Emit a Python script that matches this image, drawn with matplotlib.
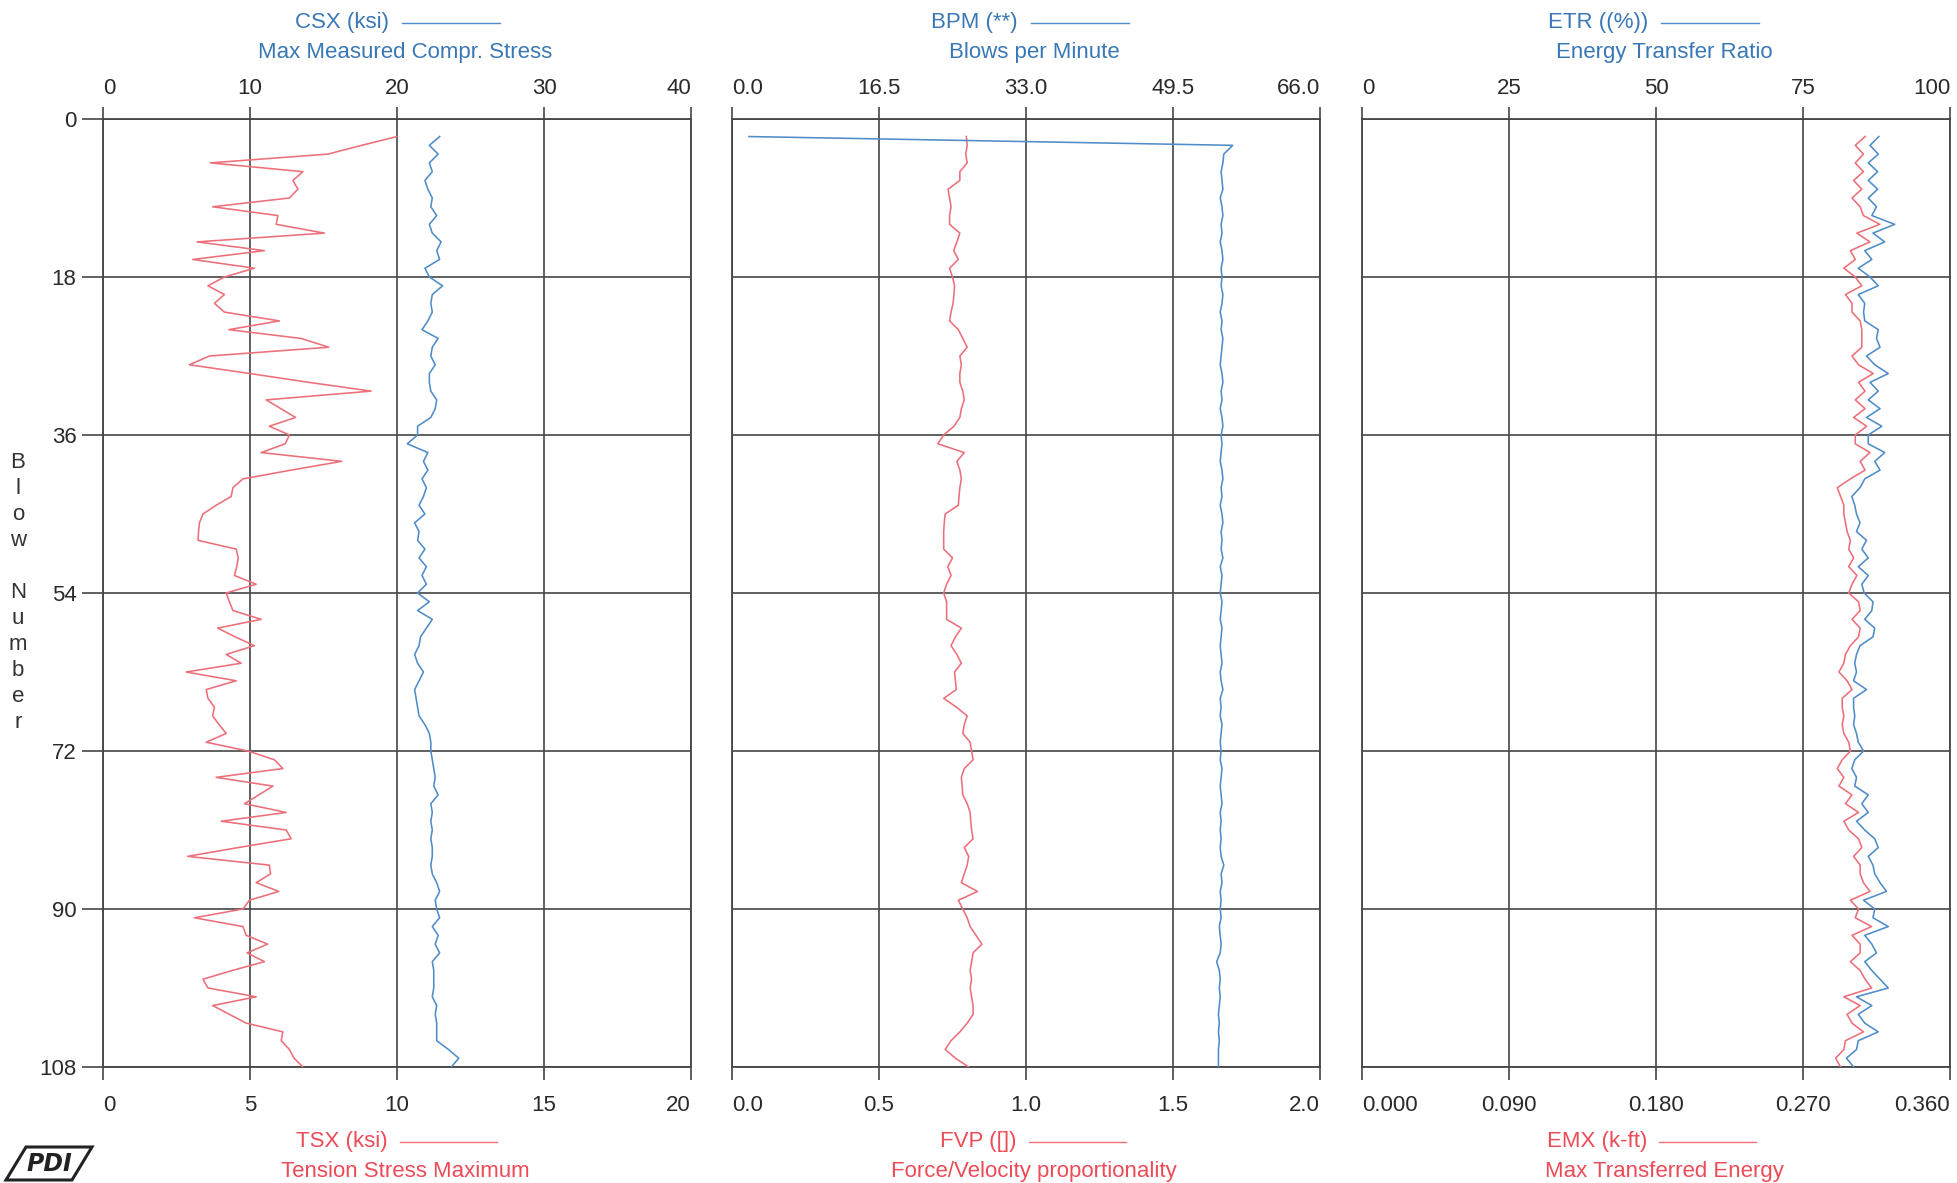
import numpy as np
import matplotlib
matplotlib.use('Agg')
import matplotlib.pyplot as plt
from matplotlib.lines import Line2D
from matplotlib.patches import Polygon

plt.rcParams['font.family'] = ['Liberation Sans', 'DejaVu Sans']

# ---------------- data (blow numbers 2..108) ----------------
csx = [22.9, 22.2, 22.8, 22.2, 22.4, 21.9, 22.1, 22.4, 22.3, 22.7,
       22.2, 22.4, 23.0, 22.7, 22.9, 21.9, 22.2, 23.1, 22.4, 22.3,
       22.4, 22.1, 21.7, 22.8, 22.4, 22.3, 22.6, 22.2, 22.2, 22.3,
       22.7, 22.6, 22.3, 21.4, 21.4, 20.7, 22.1, 21.8, 22.1, 21.7,
       22.0, 21.8, 21.5, 21.9, 21.2, 21.5, 21.4, 21.9, 21.5, 22.0,
       21.7, 22.0, 21.4, 22.2, 21.4, 22.4, 22.0, 21.6, 21.5, 21.2,
       21.4, 21.8, 21.5, 21.2, 21.3, 21.4, 21.5, 21.9, 22.2, 22.3,
       22.3, 22.4, 22.5, 22.6, 22.5, 22.8, 22.3, 22.4, 22.3, 22.4,
       22.3, 22.4, 22.4, 22.3, 22.4, 22.7, 22.9, 22.6, 22.7, 22.9,
       22.4, 22.8, 22.6, 22.9, 22.4, 22.5, 22.5, 22.5, 22.4, 22.7,
       22.6, 22.7, 22.7, 22.7, 23.5, 24.2, 23.7]

tsx = [10.0, 8.8, 7.65, 3.65, 6.8, 6.46, 6.63, 6.34, 3.73, 5.95,
       5.89, 7.53, 3.2, 5.49, 3.05, 5.15, 4.13, 3.57, 4.13, 3.79,
       4.13, 6.0, 4.28, 6.74, 7.68, 3.62, 2.94, 5.0, 7.0, 9.12,
       5.55, 6.05, 6.55, 5.66, 6.34, 6.2, 5.38, 8.12, 6.4, 4.76,
       4.42, 4.36, 3.85, 3.4, 3.28, 3.25, 3.23, 4.53, 4.6, 4.55,
       4.47, 5.21, 4.19, 4.3, 4.42, 5.38, 3.9, 4.5, 5.15, 4.19,
       4.7, 2.83, 4.53, 3.51, 3.57, 3.79, 3.73, 3.95, 4.19, 3.51,
       4.93, 5.83, 6.12, 3.85, 5.78, 5.3, 4.81, 6.23, 4.02, 6.23,
       6.4, 4.6, 2.88, 5.66, 5.7, 5.21, 5.98, 4.98, 4.76, 3.11,
       4.76, 4.87, 5.6, 4.9, 5.49, 4.4, 3.4, 3.57, 5.21, 3.73,
       4.3, 4.87, 6.12, 6.06, 6.34, 6.5, 6.8]

bpm = [1.9, 56.2, 55.2, 55.1, 54.9, 55.0, 55.1, 54.8, 55.0, 55.1,
       54.9, 55.0, 54.8, 55.0, 55.1, 54.9, 55.0, 54.9, 55.1, 55.0,
       54.8, 55.0, 54.9, 55.1, 55.0, 54.9, 54.8, 55.0, 55.1, 54.9,
       55.0, 54.8, 55.0, 55.1, 54.9, 55.0, 54.9, 54.8, 55.0, 55.1,
       54.9, 55.0, 54.8, 55.0, 55.1, 54.9, 55.0, 54.9, 55.1, 54.8,
       55.0, 54.9, 54.8, 55.0, 54.9, 54.8, 55.0, 54.9, 54.8, 54.9,
       55.0, 54.8, 54.9, 55.1, 54.8, 54.9, 54.8, 55.0, 54.9, 54.8,
       54.9, 54.8, 55.0, 54.9, 54.8, 54.9, 55.0, 54.8, 54.9, 54.8,
       54.9, 54.8, 54.9, 55.2, 54.9, 55.0, 54.8, 54.9, 54.8, 54.9,
       54.7, 54.8, 54.9, 54.8, 54.4, 54.7, 54.8, 54.7, 54.8, 54.7,
       54.6, 54.7, 54.6, 54.7, 54.6, 54.6, 54.6]

fvp = [0.797, 0.80, 0.795, 0.80, 0.775, 0.775, 0.735, 0.74, 0.745, 0.74,
       0.74, 0.775, 0.765, 0.754, 0.77, 0.74, 0.75, 0.757, 0.755, 0.752,
       0.745, 0.74, 0.77, 0.785, 0.80, 0.775, 0.78, 0.775, 0.775, 0.785,
       0.79, 0.78, 0.775, 0.755, 0.72, 0.70, 0.79, 0.765, 0.775, 0.78,
       0.775, 0.772, 0.77, 0.725, 0.722, 0.72, 0.72, 0.72, 0.75, 0.734,
       0.745, 0.73, 0.72, 0.73, 0.73, 0.73, 0.78, 0.76, 0.745, 0.765,
       0.78, 0.757, 0.76, 0.763, 0.72, 0.763, 0.80, 0.79, 0.785, 0.81,
       0.815, 0.82, 0.79, 0.78, 0.783, 0.785, 0.80, 0.81, 0.812, 0.815,
       0.82, 0.79, 0.805, 0.80, 0.79, 0.78, 0.835, 0.77, 0.785, 0.80,
       0.81, 0.83, 0.85, 0.82, 0.815, 0.81, 0.815, 0.81, 0.815, 0.82,
       0.82, 0.80, 0.775, 0.745, 0.725, 0.76, 0.805]

etr = [87.9, 86.4, 87.8, 86.1, 87.7, 86.1, 87.7, 86.1, 87.5, 86.7,
       90.6, 86.9, 88.9, 85.5, 86.7, 84.4, 86.4, 87.8, 84.4, 85.5,
       85.3, 85.5, 87.8, 87.5, 88.1, 85.8, 87.2, 89.5, 86.4, 87.8,
       86.1, 88.1, 85.8, 88.4, 86.1, 86.1, 88.9, 87.2, 88.1, 85.5,
       84.7, 83.3, 83.8, 84.1, 84.7, 84.1, 85.8, 85.0, 86.1, 84.4,
       86.1, 85.0, 85.4, 86.9, 86.7, 85.5, 87.2, 86.9, 84.7, 84.1,
       83.8, 84.1, 83.6, 85.8, 83.6, 83.6, 83.8, 83.6, 84.1, 84.4,
       85.3, 83.8, 83.3, 84.1, 83.8, 86.1, 85.0, 86.1, 84.1, 85.5,
       87.2, 87.8, 86.1, 86.9, 87.2, 88.1, 89.2, 85.3, 87.2, 86.9,
       89.5, 85.5, 86.7, 87.5, 85.5, 86.7, 88.1, 89.5, 84.1, 86.7,
       84.4, 85.5, 87.8, 84.4, 84.1, 82.4, 83.6]

emx = [0.308, 0.302, 0.307, 0.302, 0.307, 0.301, 0.306, 0.300, 0.305, 0.307,
       0.317, 0.303, 0.311, 0.299, 0.302, 0.295, 0.302, 0.306, 0.296, 0.300,
       0.300, 0.305, 0.306, 0.306, 0.306, 0.300, 0.304, 0.313, 0.304, 0.308,
       0.302, 0.308, 0.301, 0.309, 0.302, 0.302, 0.311, 0.305, 0.308, 0.299,
       0.291, 0.293, 0.295, 0.295, 0.296, 0.297, 0.299, 0.298, 0.301, 0.298,
       0.303, 0.300, 0.298, 0.304, 0.305, 0.300, 0.305, 0.304, 0.299, 0.296,
       0.295, 0.292, 0.297, 0.300, 0.294, 0.294, 0.295, 0.294, 0.295, 0.298,
       0.299, 0.294, 0.291, 0.295, 0.292, 0.300, 0.296, 0.304, 0.295, 0.298,
       0.304, 0.306, 0.301, 0.305, 0.305, 0.307, 0.311, 0.299, 0.304, 0.302,
       0.312, 0.300, 0.305, 0.305, 0.299, 0.305, 0.308, 0.312, 0.295, 0.305,
       0.297, 0.300, 0.307, 0.296, 0.295, 0.290, 0.293]

first_blow = 2
blows = np.arange(first_blow, first_blow + len(csx))

y_ticks = [0, 18, 36, 54, 72, 90, 108]
y_label = "Blow Number"

top_series = [csx, bpm, etr]
top_ticklabels = [["0", "10", "20", "30", "40"],
                  ["0.0", "16.5", "33.0", "49.5", "66.0"],
                  ["0", "25", "50", "75", "100"]]
top_titles = ["CSX (ksi)", "BPM (**)", "ETR ((%))"]
top_subs = ["Max Measured Compr. Stress", "Blows per Minute", "Energy Transfer Ratio"]

bot_series = [tsx, fvp, emx]
bot_ticklabels = [["0", "5", "10", "15", "20"],
                  ["0.0", "0.5", "1.0", "1.5", "2.0"],
                  ["0.000", "0.090", "0.180", "0.270", "0.360"]]
bot_titles = ["TSX (ksi)", "FVP ([])", "EMX (k-ft)"]
bot_subs = ["Tension Stress Maximum", "Force/Velocity proportionality", "Max Transferred Energy"]

# ---------------- style ----------------
BLUE_TXT = '#3a78b5'
BLUE_LN = '#4f8cc9'
RED_TXT = '#ec4b57'
RED_LN = '#ec6f79'
GRID = '#454545'
TICK_TXT = '#2a2a2a'
FS = 16

W, H = 1957, 1183
fig = plt.figure(figsize=(W / 100, H / 100), dpi=100)

panel_left = [103, 732, 1362]
panel_w = 588
top_px, bot_px = 119, 1067


def fx(px):
    return px / W


def fy(py):
    return 1 - py / H


def edge_align(axis):
    ticks = axis.get_major_ticks()
    for t in (ticks[0],):
        t.label1.set_horizontalalignment('left')
        t.label2.set_horizontalalignment('left')
    for t in (ticks[-1],):
        t.label1.set_horizontalalignment('right')
        t.label2.set_horizontalalignment('right')


for i in range(3):
    l = panel_left[i]
    ax = fig.add_axes([fx(l), fy(bot_px), panel_w / W, (bot_px - top_px) / H])
    bt = [float(s) for s in bot_ticklabels[i]]
    tt = [float(s) for s in top_ticklabels[i]]
    ax.plot(bot_series[i], blows, color=RED_LN, lw=1.15, zorder=3)
    ax.set_xlim(bt[0], bt[-1])
    ax.set_ylim(y_ticks[-1], y_ticks[0])
    ax.set_xticks(bt)
    ax.set_xticklabels(bot_ticklabels[i])
    ax.set_yticks(y_ticks)
    ax.grid(True, color=GRID, lw=1.2)
    ax.set_axisbelow(True)
    for sp in ax.spines.values():
        sp.set_color(GRID)
        sp.set_linewidth(1.3)
    ax.tick_params(axis='x', direction='out', length=9, width=1.2, color=GRID,
                   pad=11, labelsize=FS, labelcolor=TICK_TXT)
    if i == 0:
        ax.set_yticklabels([str(v) for v in y_ticks])
        ax.tick_params(axis='y', direction='out', length=15, width=1.2, color=GRID,
                       pad=4, labelsize=FS, labelcolor=TICK_TXT)
    else:
        ax.tick_params(axis='y', length=0, labelleft=False)
    edge_align(ax.xaxis)

    ax2 = ax.twiny()
    ax2.plot(top_series[i], blows, color=BLUE_LN, lw=1.15, zorder=4)
    ax2.set_xlim(tt[0], tt[-1])
    ax2.set_xticks(tt)
    ax2.set_xticklabels(top_ticklabels[i])
    for sp in ax2.spines.values():
        sp.set_visible(False)
    ax2.tick_params(axis='x', direction='out', length=9, width=1.2, color=GRID,
                    pad=5.5, labelsize=FS, labelcolor=TICK_TXT)
    edge_align(ax2.xaxis)

    c = l + panel_w / 2
    # top titles
    fig.text(fx(c - 8), fy(22.5), top_titles[i], ha='right', va='center',
             fontsize=FS, color=BLUE_TXT)
    fig.add_artist(Line2D([fx(c + 5), fx(c + 103)], [fy(22.5), fy(22.5)],
                          color=BLUE_LN, lw=1.0))
    fig.text(fx(c + 8), fy(52.5), top_subs[i], ha='center', va='center',
             fontsize=FS, color=BLUE_TXT)
    # bottom titles
    fig.text(fx(c - 9), fy(1141.5), bot_titles[i], ha='right', va='center',
             fontsize=FS, color=RED_TXT)
    fig.add_artist(Line2D([fx(c + 3), fx(c + 100)], [fy(1141.5), fy(1141.5)],
                          color=RED_LN, lw=1.0))
    fig.text(fx(c + 8), fy(1171.5), bot_subs[i], ha='center', va='center',
             fontsize=FS, color=RED_TXT)

# vertical stacked y-axis label
for k, ch in enumerate(y_label):
    if ch.strip():
        fig.text(fx(18), fy(463 + k * 25.9), ch, ha='center', va='center',
                 fontsize=FS, color='#333333')

# logo (stylised parallelogram with PDI)
logo = Polygon([[fx(6), fy(1180)], [fx(26), fy(1147)], [fx(92), fy(1147)], [fx(72), fy(1180)]],
               closed=True, fill=False, edgecolor='#222222', lw=2.2, transform=fig.transFigure)
fig.add_artist(logo)
fig.text(fx(49), fy(1164), "PDI", ha='center', va='center', fontsize=17,
         fontweight='bold', style='italic', color='#222222', family='DejaVu Sans')

fig.savefig('out.png', dpi=100)
